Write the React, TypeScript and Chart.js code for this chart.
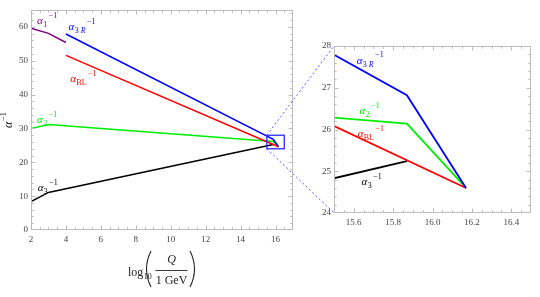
import React, { useEffect, useRef } from "react";
import { Chart, registerables } from "chart.js";

Chart.register(...registerables);

// ---------------- data ----------------
const alpha1X = [2, 3, 4];
const alpha1Y = [59.6, 58.1, 55.4];
const alpha3RX = [4, 15.87, 16.17];
const alpha3RY = [57.9, 26.82, 24.6];
const alphaBLX = [4, 16.17];
const alphaBLY = [51.6, 24.6];
const alpha2X = [2, 3, 15.87, 16.17];
const alpha2Y = [30.0, 31.2, 26.14, 24.6];
const alpha3X = [2, 3, 15.87];
const alpha3Y = [8.4, 11.1, 25.24];

const mainXTicks = [2, 4, 6, 8, 10, 12, 14, 16];
const mainYTicks = [0, 10, 20, 30, 40, 50, 60];
const insetXTicks = [15.6, 15.8, 16.0, 16.2, 16.4];
const insetYTicks = [24, 25, 26, 27, 28];

const mainXRange = [2, 17];
const mainYRange = [0, 65];
const insetXRange = [15.5, 16.5];
const insetYRange = [24, 28];

// ---------------- styling ----------------
const W = 540;
const H = 297;
const SERIF = "'Liberation Serif', 'Times New Roman', serif";
const FRAME = "#bcbcbc";
const TICKTXT = "#444";

type Seg = { t: string; italic: boolean };

const series = [
  { key: "a1", xs: alpha1X, ys: alpha1Y, color: "#800080", sub: [{ t: "1", italic: false }] },
  { key: "a3R", xs: alpha3RX, ys: alpha3RY, color: "#0000ff", sub: [{ t: "3 ", italic: false }, { t: "R", italic: true }] },
  { key: "aBL", xs: alphaBLX, ys: alphaBLY, color: "#ff0000", sub: [{ t: "BL", italic: false }] },
  { key: "a2", xs: alpha2X, ys: alpha2Y, color: "#00ee00", sub: [{ t: "2", italic: false }] },
  { key: "a3", xs: alpha3X, ys: alpha3Y, color: "#000000", sub: [{ t: "3", italic: false }] },
];

// label anchors (data coordinates of text baseline start)
const mainLabels: Record<string, [number, number]> = {
  a1: [2.35, 60.9],
  a3R: [4.15, 59.2],
  aBL: [4.25, 43.8],
  a2: [2.35, 31.6],
  a3: [2.38, 11.4],
};
const insetLabels: Record<string, [number, number]> = {
  a3R: [15.615, 27.58],
  a2: [15.63, 26.38],
  aBL: [15.62, 25.82],
  a3: [15.64, 24.66],
};

function drawAlpha(ctx: CanvasRenderingContext2D, px: number, py: number, sub: Seg[], color: string, size: number) {
  ctx.save();
  ctx.fillStyle = color;
  ctx.textAlign = "left";
  ctx.textBaseline = "alphabetic";
  ctx.font = `italic ${size}px ${SERIF}`;
  ctx.fillText("α", px, py);
  let x = px + ctx.measureText("α").width + 0.3;
  const ss = Math.round(size * 0.72);
  for (const s of sub) {
    ctx.font = `${s.italic ? "italic " : ""}${ss}px ${SERIF}`;
    ctx.fillText(s.t, x, py + 3);
    x += ctx.measureText(s.t).width;
  }
  ctx.font = `${ss}px ${SERIF}`;
  ctx.fillText("−1", x + 1.5, py - size * 0.55);
  ctx.restore();
}

function range(a: number, b: number, step: number) {
  const out: number[] = [];
  const n = Math.round((b - a) / step);
  for (let i = 0; i <= n; i++) out.push(+(a + i * step).toFixed(6));
  return out;
}

function frameTicksPlugin(major: { x: number[]; y: number[] }, minor: { x: number[]; y: number[] }) {
  return {
    id: "frameTicks",
    afterDraw(chart: any) {
      const { ctx, chartArea: a } = chart;
      const sx = chart.scales.x;
      const sy = chart.scales.y;
      ctx.save();
      ctx.strokeStyle = FRAME;
      ctx.lineWidth = 1;
      const L = Math.round(a.left) + 0.5;
      const R = Math.round(a.right) - 0.5;
      const T = Math.round(a.top) + 0.5;
      const B = Math.round(a.bottom) - 0.5;
      ctx.strokeRect(L, T, R - L, B - T);
      ctx.beginPath();
      const tick = (vals: number[], len: number, horiz: boolean) => {
        for (const v of vals) {
          if (horiz) {
            const p = Math.round(sx.getPixelForValue(v)) + 0.5;
            if (p < L - 0.1 || p > R + 0.1) continue;
            ctx.moveTo(p, B); ctx.lineTo(p, B - len);
            ctx.moveTo(p, T); ctx.lineTo(p, T + len);
          } else {
            const p = Math.round(sy.getPixelForValue(v)) + 0.5;
            if (p < T - 0.1 || p > B + 0.1) continue;
            ctx.moveTo(L, p); ctx.lineTo(L + len, p);
            ctx.moveTo(R, p); ctx.lineTo(R - len, p);
          }
        }
      };
      tick(major.x, 4, true);
      tick(minor.x, 2.2, true);
      tick(major.y, 4, false);
      tick(minor.y, 2.2, false);
      ctx.stroke();
      ctx.restore();
    },
  };
}

function labelsPlugin(labels: Record<string, [number, number]>, size: number) {
  return {
    id: "alphaLabels",
    afterDatasetsDraw(chart: any) {
      const { ctx } = chart;
      for (const s of series) {
        const pos = labels[s.key];
        if (!pos) continue;
        const px = chart.scales.x.getPixelForValue(pos[0]);
        const py = chart.scales.y.getPixelForValue(pos[1]);
        drawAlpha(ctx, px, py, s.sub, s.color, size);
      }
    },
  };
}

const mainTitlesPlugin = {
  id: "mainTitles",
  afterDraw(chart: any) {
    const { ctx, chartArea: a } = chart;
    ctx.save();
    ctx.fillStyle = "#222";
    ctx.strokeStyle = "#222";
    // y title: alpha^-1 rotated
    ctx.translate(12, a.top + 118);
    ctx.rotate(-Math.PI / 2);
    ctx.textBaseline = "alphabetic";
    ctx.textAlign = "left";
    ctx.font = `italic 12px ${SERIF}`;
    ctx.fillText("α", 0, 0);
    const aw = ctx.measureText("α").width;
    ctx.font = `8px ${SERIF}`;
    ctx.fillText("−1", aw + 1, -6.5);
    ctx.setTransform(1, 0, 0, 1, 0, 0);

    // x title: log10( Q / 1 GeV )
    const cx = (a.left + a.right) / 2;
    const by = a.bottom;
    ctx.font = `12px ${SERIF}`;
    ctx.textAlign = "left";
    const lx = cx - 34;
    ctx.fillText("log", lx, by + 46);
    const lw = ctx.measureText("log").width;
    ctx.font = `8px ${SERIF}`;
    ctx.fillText("10", lx + lw + 0.3, by + 49);
    // parentheses
    ctx.lineWidth = 1.1;
    ctx.beginPath();
    ctx.moveTo(cx - 11, by + 21);
    ctx.quadraticCurveTo(cx - 20, by + 39, cx - 11, by + 57);
    ctx.moveTo(cx + 28, by + 21);
    ctx.quadraticCurveTo(cx + 37, by + 39, cx + 28, by + 57);
    ctx.stroke();
    // fraction
    const fx = cx + 9.5;
    ctx.textAlign = "center";
    ctx.font = `italic 12px ${SERIF}`;
    ctx.fillText("Q", fx, by + 33);
    ctx.lineWidth = 0.9;
    ctx.beginPath();
    ctx.moveTo(fx - 16, by + 40.5);
    ctx.lineTo(fx + 16, by + 40.5);
    ctx.stroke();
    ctx.font = `12px ${SERIF}`;
    ctx.fillText("1 GeV", fx, by + 54);
    ctx.restore();
  },
};

function datasets(width: number) {
  return series.map((s) => ({
    label: s.key,
    data: s.xs.map((x, i) => ({ x, y: s.ys[i] })),
    borderColor: s.color,
    backgroundColor: s.color,
    borderWidth: width,
    pointRadius: 0,
    fill: false,
    tension: 0,
    borderJoinStyle: "miter" as const,
  }));
}

function axes(xr: number[], yr: number[], xt: number[], yt: number[], yWidth: number, xDigits: number) {
  const font = { family: SERIF, size: 9 };
  return {
    x: {
      type: "linear" as const,
      min: xr[0],
      max: xr[1],
      grid: { display: false, drawTicks: false },
      border: { display: false },
      afterBuildTicks: (s: any) => {
        s.ticks = xt.map((v) => ({ value: v }));
      },
      afterFit: (s: any) => {
        s.height = 20;
      },
      ticks: {
        font,
        color: TICKTXT,
        padding: 4,
        maxRotation: 0,
        autoSkip: false,
        callback: (v: any) => Number(v).toFixed(xDigits),
      },
    },
    y: {
      type: "linear" as const,
      min: yr[0],
      max: yr[1],
      grid: { display: false, drawTicks: false },
      border: { display: false },
      afterBuildTicks: (s: any) => {
        s.ticks = yt.map((v) => ({ value: v }));
      },
      afterFit: (s: any) => {
        s.width = yWidth;
      },
      ticks: { font, color: TICKTXT, padding: 3, autoSkip: false, callback: (v: any) => String(v) },
    },
  };
}

export default function App() {
  const mainRef = useRef<HTMLCanvasElement>(null);
  const insetRef = useRef<HTMLCanvasElement>(null);

  useEffect(() => {
    const main = new Chart(mainRef.current!, {
      type: "line",
      data: { datasets: datasets(1.5) as any },
      options: {
        animation: false,
        responsive: false,
        maintainAspectRatio: false,
        events: [],
        layout: { padding: { left: 0, right: W - 293, top: 10, bottom: H - 230 - 20 } },
        plugins: { legend: { display: false }, tooltip: { enabled: false } },
        scales: axes(mainXRange, mainYRange, mainXTicks, mainYTicks, 31, 0) as any,
      },
      plugins: [
        frameTicksPlugin(
          { x: mainXTicks, y: mainYTicks },
          { x: range(mainXRange[0], mainXRange[1], 0.5), y: range(mainYRange[0], mainYRange[1], 2) }
        ),
        labelsPlugin(mainLabels, 11),
        mainTitlesPlugin,
      ] as any,
    });

    const connectorPlugin = {
      id: "connector",
      afterDraw(chart: any) {
        const { ctx, chartArea: a } = chart;
        const mx = main.scales.x;
        const my = main.scales.y;
        const x1 = mx.getPixelForValue(insetXRange[0]);
        const x2 = mx.getPixelForValue(insetXRange[1]);
        const y1 = my.getPixelForValue(insetYRange[1]);
        const y2 = my.getPixelForValue(insetYRange[0]);
        ctx.save();
        ctx.strokeStyle = "#2a2aff";
        ctx.lineWidth = 1.3;
        ctx.strokeRect(x1, y1, x2 - x1, y2 - y1);
        ctx.strokeStyle = "#5a5aff";
        ctx.lineWidth = 1;
        ctx.setLineDash([2, 2.5]);
        ctx.beginPath();
        ctx.moveTo(x1, y1);
        ctx.lineTo(a.left, a.top);
        ctx.moveTo(x1, y2);
        ctx.lineTo(a.left, a.bottom);
        ctx.stroke();
        ctx.restore();
      },
    };

    const inset = new Chart(insetRef.current!, {
      type: "line",
      data: { datasets: datasets(1.8) as any },
      options: {
        animation: false,
        responsive: false,
        maintainAspectRatio: false,
        events: [],
        layout: { padding: { left: 334 - 20, right: W - 531, top: 46, bottom: H - 213 - 20 } },
        plugins: { legend: { display: false }, tooltip: { enabled: false } },
        scales: axes(insetXRange, insetYRange, insetXTicks, insetYTicks, 20, 1) as any,
      },
      plugins: [
        frameTicksPlugin(
          { x: insetXTicks, y: insetYTicks },
          { x: range(insetXRange[0], insetXRange[1], 0.05), y: range(insetYRange[0], insetYRange[1], 0.2) }
        ),
        labelsPlugin(insetLabels, 11),
        connectorPlugin,
      ] as any,
    });

    return () => {
      inset.destroy();
      main.destroy();
    };
  }, []);

  return (
    <div style={{ position: "fixed", left: 0, top: 0, width: W, height: H, background: "#fff" }}>
      <canvas ref={mainRef} width={W} height={H} style={{ position: "absolute", left: 0, top: 0 }} />
      <canvas ref={insetRef} width={W} height={H} style={{ position: "absolute", left: 0, top: 0 }} />
    </div>
  );
}
